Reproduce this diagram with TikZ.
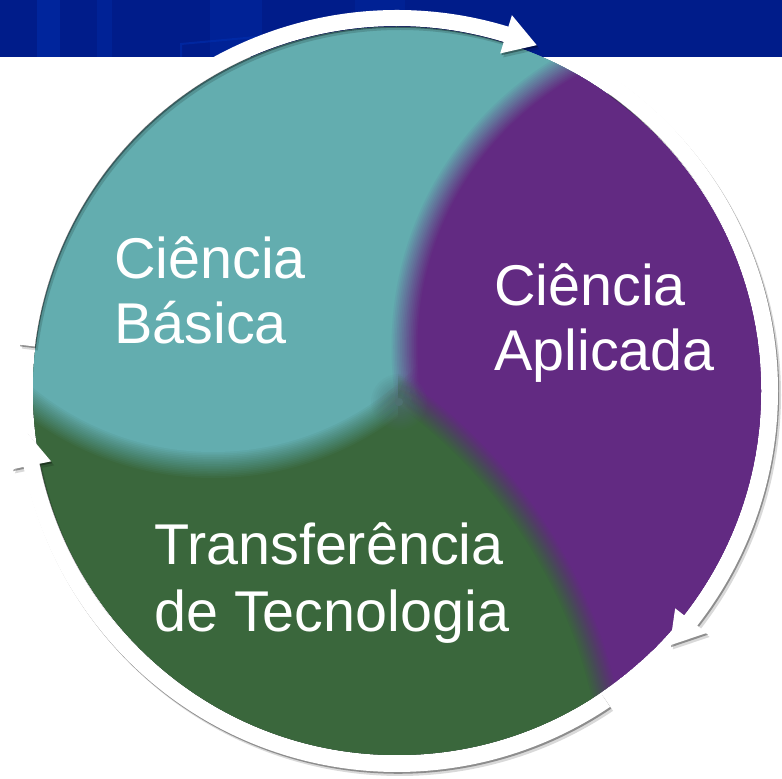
\documentclass[tikz,border=0pt]{standalone}
\usepackage{fontspec}
\setmainfont{Liberation Sans}
\definecolor{tealR}{RGB}{99,173,175}
\definecolor{purpR}{RGB}{98,42,130}
\definecolor{greenR}{RGB}{58,103,60}
\definecolor{mixR}{RGB}{78,112,112}
\definecolor{bannerR}{RGB}{0,28,138}
\definecolor{bannerL}{RGB}{0,48,180}
\tikzset{
  lbl/.style={text=white, inner sep=0pt, anchor=base west, font=\fontsize{57.5}{66}\selectfont},
  stripe/.style={fill=bannerL, opacity=0.45},
  arrowpath/.style n args={3}{insert path={(#1:365) arc[start angle=#1, end angle=#2, radius=365] -- (#2:353) -- (#3:373) -- (#2:393) -- (#2:381) arc[start angle=#2, end angle=#1, radius=381] -- cycle}},
}
% soft-edged disc: colour, x, y, radius, half-width of the soft edge
\newcommand\softdisc[5]{%
  \foreach \k in {1,...,16}{%
    \pgfmathsetmacro\op{1/(17-\k)}%
    \pgfmathsetmacro\rr{#4+#5-(\k-1)*2*#5/15}%
    \fill[#1, opacity=\op] (#2,#3) circle[radius=\rr];
  }}
\begin{document}
\begin{tikzpicture}[x=1pt,y=1pt]
\useasboundingbox (0,0) rectangle (782,779);
\fill[white] (0,0) rectangle (782,779);
% banner
\fill[bannerR] (0,722) rectangle (782,779);
\fill[stripe] (37,722) rectangle (60,779);
\fill[stripe, opacity=0.3] (97,722) rectangle (112,779);
\fill[stripe, opacity=0.3] (210,722) rectangle (262,779);
\fill[stripe, opacity=0.25] (355,722) rectangle (405,779);
\draw[bannerL, line width=2pt, opacity=0.5] (181,722) -- (181,735) -- (300,746);
% circle regions
\begin{scope}
  \clip (397,388) circle[radius=364];
  \fill[purpR] (397,388) circle[radius=364];
  \begin{scope}
    \clip (0,0) rectangle (398,779);
    \softdisc{greenR}{106}{-30}{511}{13}
  \end{scope}
  \softdisc{tealR}{213}{611}{297}{13}
  \softdisc{tealR}{400}{679}{250}{13}
  \softdisc{purpR}{728}{432}{323.5}{13}
  \begin{scope}
    \clip (398,0) rectangle (782,779);
    \softdisc{greenR}{106}{-30}{511}{13}
  \end{scope}
  \begin{scope}[opacity=0.85]
    \softdisc{mixR}{399}{377}{12}{16}
  \end{scope}
\end{scope}
% arrows
\begin{scope}[shift={(397,388)}]
  \foreach \t/\b/\h in {173/73/68, 55/-38/-43, -56/-168.5/-173.7}{
    \fill[black, opacity=0.15, shift={(3,-4)}, arrowpath={\t}{\b}{\h}];
    \fill[black, opacity=0.35, shift={(1.2,-1.8)}, arrowpath={\t}{\b}{\h}];
    \fill[white, arrowpath={\t}{\b}{\h}];
  }
\end{scope}
% labels
\node[lbl] (cb1) at (114,500) {Ciência};
\node[lbl] (cb2) at (114,435) {Básica};
\node[lbl] (ca1) at (494,473) {Ciência};
\node[lbl] (ca2) at (494,408) {Aplicada};
\node[lbl] (tt1) at (154,214) {Transferência};
\node[lbl] (tt2) at (154,147) {de Tecnologia};
\end{tikzpicture}
\end{document}
